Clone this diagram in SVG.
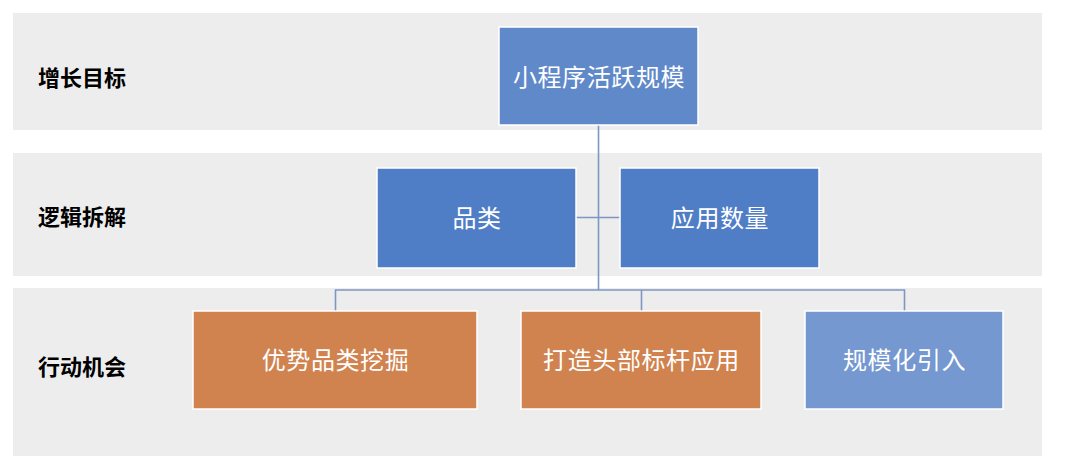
<svg xmlns="http://www.w3.org/2000/svg" width="1080" height="456" viewBox="0 0 1080 456">
<style>
.band{fill:#ededed}
.lbl{font-family:"Noto Sans CJK SC","Noto Sans",sans-serif;font-size:22px;font-weight:bold;fill:#000;dominant-baseline:central}
.nt{font-family:"Noto Sans CJK SC","Noto Sans",sans-serif;font-size:24px;letter-spacing:0.6px;fill:#fff;text-anchor:middle;dominant-baseline:central}
.box{stroke:#ffffff;stroke-width:1.5}
.b1{fill:#6089c9}
.b2{fill:#4f7dc6}
.b3{fill:#7598d0}
.or{fill:#d0834f}
.ln{fill:none;stroke:#7f96c2;stroke-width:1.6}
</style>
<rect x="0" y="0" width="1080" height="456" fill="#ffffff"/>
<g id="bands">
<rect class="band" x="13" y="13" width="1029" height="117"/>
<rect class="band" x="13" y="153" width="1029" height="123"/>
<rect class="band" x="13" y="288" width="1029" height="168"/>
<text class="lbl" x="38" y="76">增长目标</text>
<text class="lbl" x="38" y="215">逻辑拆解</text>
<text class="lbl" x="38" y="365">行动机会</text>
</g>
<g id="connectors">
<path class="ln" d="M598.5 125 V290"/>
<path class="ln" d="M576 217.5 H620"/>
<path class="ln" d="M335.5 311 V290 H904.5 V311"/>
<path class="ln" d="M641.5 290 V311"/>
</g>
<g id="node-top">
<rect class="box b1" x="499" y="27" width="199" height="98"/>
<text class="nt" x="599" y="75">小程序活跃规模</text>
</g>
<g id="node-category">
<rect class="box b2" x="377" y="168" width="199" height="100"/>
<text class="nt" x="477" y="216">品类</text>
</g>
<g id="node-appcount">
<rect class="box b2" x="620" y="168" width="199" height="100"/>
<text class="nt" x="720" y="216">应用数量</text>
</g>
<g id="node-advantage">
<rect class="box or" x="193" y="311" width="284" height="98"/>
<text class="nt" x="335.5" y="358">优势品类挖掘</text>
</g>
<g id="node-headapp">
<rect class="box or" x="521" y="311" width="240" height="98"/>
<text class="nt" x="641.5" y="358">打造头部标杆应用</text>
</g>
<g id="node-scale">
<rect class="box b3" x="805" y="311" width="198" height="98"/>
<text class="nt" x="904.5" y="358">规模化引入</text>
</g>
</svg>
